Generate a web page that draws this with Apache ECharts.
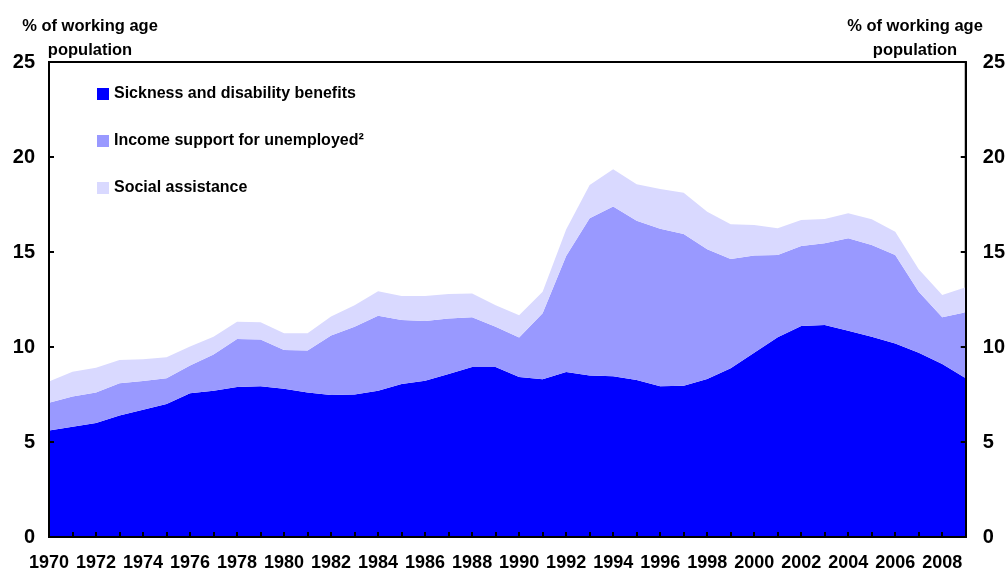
<!DOCTYPE html>
<html>
<head>
<meta charset="utf-8">
<script src="https://cdn.jsdelivr.net/npm/echarts@6/dist/echarts.min.js"></script>
<style>
  html, body { margin: 0; padding: 0; background: #fff; }
  #chart { width: 1008px; height: 575px; }
</style>
</head>
<body>
<div id="chart"></div>
<script>
// years on the x axis
const years = [];
for (let y = 1970; y <= 2009; y++) years.push(String(y));

// % of working age population
const sickness = [
  5.6, 5.8, 6.0, 6.4, 6.7, 7.0, 7.56, 7.7, 7.9, 7.93,
  7.8, 7.6, 7.47, 7.5, 7.7, 8.05, 8.23, 8.58, 8.95, 8.95,
  8.42, 8.3, 8.68, 8.5, 8.46, 8.26, 7.93, 7.96, 8.32, 8.88,
  9.7, 10.51, 11.1, 11.16, 10.86, 10.54, 10.19, 9.7, 9.1, 8.35
];
const unemployed = [
  1.47, 1.6, 1.6, 1.69, 1.51, 1.35, 1.46, 1.91, 2.52, 2.47,
  2.04, 2.21, 3.13, 3.57, 3.95, 3.37, 3.14, 2.92, 2.61, 2.12,
  2.08, 3.47, 6.11, 8.27, 8.93, 8.39, 8.29, 7.99, 6.82, 5.75,
  5.12, 4.33, 4.22, 4.3, 4.86, 4.83, 4.65, 3.21, 2.46, 3.48
];
const social = [
  1.11, 1.3, 1.31, 1.23, 1.14, 1.11, 1.0, 0.93, 0.91, 0.9,
  0.88, 0.91, 1.0, 1.13, 1.28, 1.26, 1.31, 1.29, 1.26, 1.13,
  1.17, 1.14, 1.4, 1.76, 1.96, 1.91, 2.1, 2.17, 1.98, 1.83,
  1.6, 1.41, 1.36, 1.28, 1.32, 1.35, 1.23, 1.18, 1.18, 1.31
];
const seriesNames = [
  "Sickness and disability benefits",
  "Income support for unemployed²",
  "Social assistance"
];
const yTicks = [0, 5, 10, 15, 20, 25];
const axisTitle = "% of working age\npopulation";

const font = "'Liberation Sans', Arial, sans-serif";
const colors = ["#0000FF", "#9999FF", "#D9D9FF"];

const myChart = echarts.init(document.getElementById("chart"));

function areaSeries(name, data) {
  return {
    name: name,
    type: "line",
    stack: "total",
    data: data,
    symbol: "none",
    lineStyle: { width: 0 },
    areaStyle: { opacity: 1 },
    emphasis: { disabled: true }
  };
}

function yAxisOf(pos) {
  return {
    type: "value",
    position: pos,
    min: yTicks[0],
    max: yTicks[yTicks.length - 1],
    interval: 5,
    z: 10,
    splitLine: { show: false },
    axisLine: { show: true, lineStyle: { color: "#000", width: 2 } },
    axisTick: { show: true, inside: true, length: 5, lineStyle: { color: "#000", width: 2 } },
    axisLabel: {
      color: "#000",
      fontFamily: font,
      fontWeight: "bold",
      fontSize: 20,
      margin: pos === "left" ? 14 : 17
    }
  };
}

// 坐标轴标题（左右两侧）
function titleText(cx) {
  return {
    type: "text",
    x: cx,
    y: 14,
    style: {
      text: axisTitle,
      align: "center",
      verticalAlign: "top",
      font: "bold 16.5px " + font,
      lineHeight: 24,
      fill: "#000"
    }
  };
}

myChart.setOption({
  animation: false,
  color: colors,
  grid: {
    left: 49,
    right: 38,
    top: 62,
    bottom: 38,
    show: true,
    borderColor: "#000",
    borderWidth: 2,
    backgroundColor: "transparent"
  },
  legend: {
    orient: "vertical",
    left: 92,
    top: 79,
    icon: "rect",
    itemWidth: 12,
    itemHeight: 12,
    itemGap: 27,
    data: seriesNames,
    selectedMode: false,
    textStyle: {
      color: "#000",
      fontFamily: font,
      fontWeight: "bold",
      fontSize: 16,
      lineHeight: 20
    }
  },
  graphic: [titleText(90), titleText(915)],
  xAxis: {
    type: "category",
    data: years,
    boundaryGap: false,
    z: 10,
    axisLine: { lineStyle: { color: "#000", width: 2 } },
    axisTick: { inside: true, length: 5, interval: 0, lineStyle: { color: "#000", width: 2 } },
    axisLabel: {
      interval: 1,
      color: "#000",
      fontFamily: font,
      fontWeight: "bold",
      fontSize: 18,
      margin: 17
    }
  },
  yAxis: [yAxisOf("left"), yAxisOf("right")],
  series: [
    areaSeries(seriesNames[0], sickness),
    areaSeries(seriesNames[1], unemployed),
    areaSeries(seriesNames[2], social)
  ]
});

window.addEventListener("resize", function () {
  myChart.resize();
});
</script>
</body>
</html>
